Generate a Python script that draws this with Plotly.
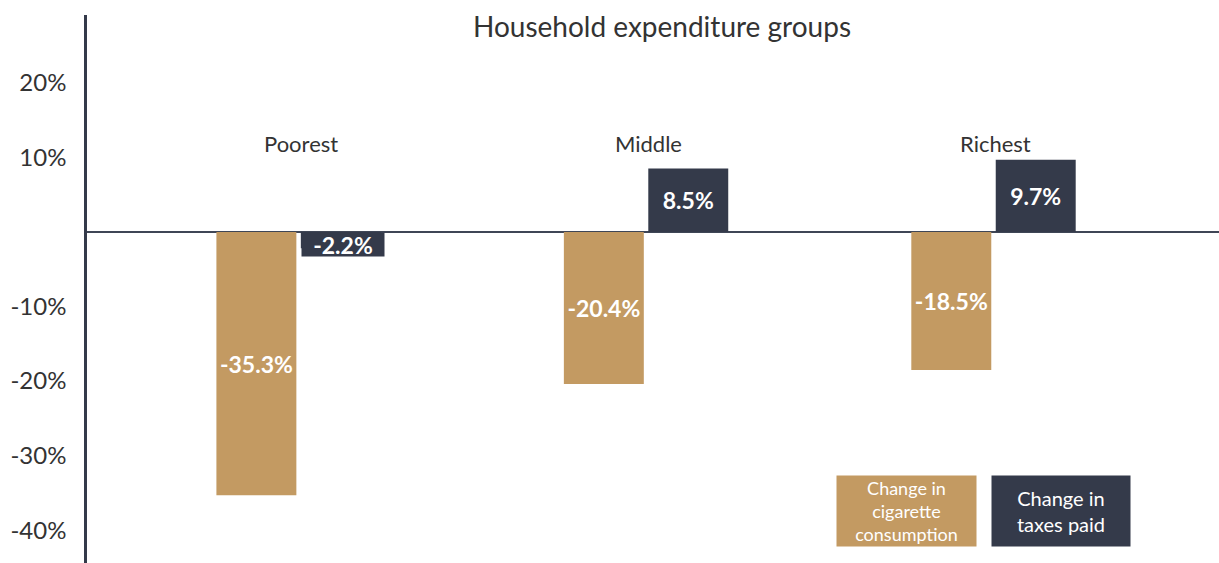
import plotly.graph_objects as go

categories = ["Poorest", "Middle", "Richest"]
consumption_change = [-35.3, -20.4, -18.5]
taxes_change = [-2.2, 8.5, 9.7]
series_names = ["Change in<br>cigarette<br>consumption", "Change in<br>taxes paid"]
tick_vals = [20, 10, -10, -20, -30, -40]
tick_text = ["20%", "10%", "-10%", "-20%", "-30%", "-40%"]

GOLD = "#C39A62"
DARK = "#343A4A"
FONT = "Lato"

W, H = 1219, 563
ML, MT = 87, 15
PW, PH = W - ML, H - MT

def px_x(px):
    return (px - ML) / PW

def px_y(py):
    return 1 - (py - MT) / PH

def lab(v):
    return f"{v:.1f}%"

fig = go.Figure()
fig.add_trace(go.Bar(
    x=categories, y=consumption_change, marker_color=GOLD, marker_line_width=0,
    text=[lab(v) for v in consumption_change], textposition="inside",
    insidetextanchor="middle", constraintext="none",
    textfont=dict(family=FONT, size=23, color="white", weight="bold"),
    name="consumption", showlegend=False, hoverinfo="skip",
))
small = [abs(v) < 4 for v in taxes_change]
fig.add_trace(go.Bar(
    x=categories, y=taxes_change, marker_color=DARK, marker_line_width=0,
    text=["" if s else lab(v) for v, s in zip(taxes_change, small)],
    textposition="inside", insidetextanchor="middle", constraintext="none",
    textfont=dict(family=FONT, size=23, color="white", weight="bold"),
    name="taxes", showlegend=False, hoverinfo="skip",
))

annotations = []
for c, v, s in zip(categories, taxes_change, small):
    if s:
        annotations.append(dict(
            x=c, y=0, xref="x", yref="y", xshift=44.5, yanchor="top",
            text=f"<b>{lab(v)}</b>", showarrow=False, bgcolor=DARK,
            width=80, height=21, borderpad=1,
            font=dict(family=FONT, size=23, color="white"),
        ))
for c in categories:
    annotations.append(dict(
        x=c, y=11.8, xref="x", yref="y", text=c, showarrow=False, xshift=2,
        font=dict(family=FONT, size=22, color="#333333"),
    ))
annotations.append(dict(
    x=px_x(662), y=px_y(26), xref="paper", yref="paper", xanchor="center", yanchor="middle",
    text="Household expenditure groups",
    showarrow=False, font=dict(family=FONT, size=28, color="#333333"),
))
annotations.append(dict(
    x=px_x(906.5), y=px_y(511), xref="paper", yref="paper", xanchor="center", yanchor="middle",
    text=series_names[0], showarrow=False, bgcolor=GOLD, width=135, height=66,
    borderpad=2, font=dict(family=FONT, size=18, color="white"), align="center",
))
annotations.append(dict(
    x=px_x(1061), y=px_y(511), xref="paper", yref="paper", xanchor="center", yanchor="middle",
    text=series_names[1], showarrow=False, bgcolor=DARK, width=134, height=66,
    borderpad=2, font=dict(family=FONT, size=20, color="white"), align="center",
))

fig.update_layout(
    width=W, height=H,
    margin=dict(l=ML, r=0, t=MT, b=0, autoexpand=False),
    paper_bgcolor="white", plot_bgcolor="white",
    barmode="group", bargap=0.514, bargroupgap=0.053,
    annotations=annotations,
    showlegend=False, hovermode=False,
    font=dict(family=FONT, color="#333333"),
)
fig.update_xaxes(range=[-0.609, 2.649], showticklabels=False, showgrid=False,
                 zeroline=False, showline=False, ticks="", automargin=False)
fig.update_yaxes(range=[-44.4, 29.1], tickvals=tick_vals, ticktext=tick_text,
                 showgrid=False, zeroline=True, zerolinecolor="#3F4656", zerolinewidth=2,
                 showline=True, linecolor=DARK, linewidth=2.5, ticks="", automargin=False,
                 ticklabelstandoff=13, tickfont=dict(family=FONT, size=24, color="#333333"))

fig.write_html("out.html", config={"displayModeBar": False},
               post_script="document.body.style.margin='0';document.body.style.overflow='hidden';")
